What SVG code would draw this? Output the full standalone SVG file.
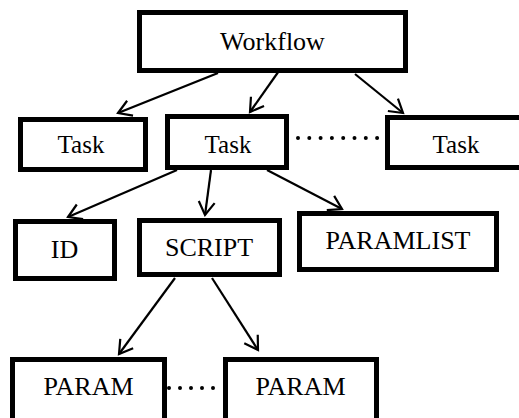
<svg xmlns="http://www.w3.org/2000/svg" width="519" height="418" viewBox="0 0 519 418">
<style>
.box{fill:#fff;stroke:#000;stroke-width:5}
.t{font-family:"Liberation Serif","Times New Roman",serif;font-size:26px;fill:#000;text-anchor:middle}
.e{fill:none;stroke:#000;stroke-width:2.2}
.dot{fill:none;stroke:#000;stroke-width:4;stroke-linecap:round;stroke-dasharray:0 11.3}
</style>
<defs>
<marker id="a" markerUnits="userSpaceOnUse" markerWidth="30" markerHeight="30" refX="15" refY="15" orient="auto" viewBox="0 0 30 30">
<path d="M2,7 L15,15 L2,23" fill="none" stroke="#000" stroke-width="2.2"/>
</marker>
</defs>
<rect width="519" height="418" fill="#fff"/>
<g id="edges">
<line class="e" x1="218" y1="73" x2="118" y2="113" marker-end="url(#a)"/>
<line class="e" x1="281" y1="68" x2="250" y2="112" marker-end="url(#a)"/>
<line class="e" x1="355" y1="74" x2="403" y2="113" marker-end="url(#a)"/>
<line class="e" x1="177" y1="170" x2="68" y2="217" marker-end="url(#a)"/>
<line class="e" x1="211" y1="170" x2="205" y2="215" marker-end="url(#a)"/>
<line class="e" x1="267" y1="170" x2="342" y2="209" marker-end="url(#a)"/>
<line class="e" x1="175" y1="278" x2="119" y2="354" marker-end="url(#a)"/>
<line class="e" x1="212" y1="278" x2="258" y2="350" marker-end="url(#a)"/>
<line class="dot" x1="298" y1="138" x2="382" y2="138"/>
<line class="dot" x1="169" y1="388" x2="215" y2="388" style="stroke-dasharray:0 11"/>
</g>
<g id="workflow"><rect class="box" x="139.5" y="12.5" width="266" height="58"/><text class="t" x="272.5" y="50">Workflow</text></g>
<g id="task1"><rect class="box" x="20.5" y="119.5" width="125" height="50"/><text class="t" x="81" y="153" style="font-size:25px">Task</text></g>
<g id="task2"><rect class="box" x="167.5" y="116.5" width="119" height="51"/><text class="t" x="228" y="153" style="font-size:25px">Task</text></g>
<g id="task3"><rect class="box" x="387.5" y="117.5" width="140" height="50"/><text class="t" x="456" y="153" style="font-size:25px">Task</text></g>
<g id="id"><rect class="box" x="15.5" y="221.5" width="99" height="57"/><text class="t" x="64.5" y="258">ID</text></g>
<g id="script"><rect class="box" x="139.5" y="220.5" width="140" height="54"/><text class="t" x="209" y="256">SCRIPT</text></g>
<g id="paramlist"><rect class="box" x="299.5" y="213.5" width="197" height="56"/><text class="t" x="398" y="249">PARAMLIST</text></g>
<g id="param1"><rect class="box" x="12.5" y="359.5" width="152" height="70"/><text class="t" x="88.5" y="395">PARAM</text></g>
<g id="param2"><rect class="box" x="225.5" y="359.5" width="151" height="70"/><text class="t" x="300.5" y="395">PARAM</text></g>
</svg>
